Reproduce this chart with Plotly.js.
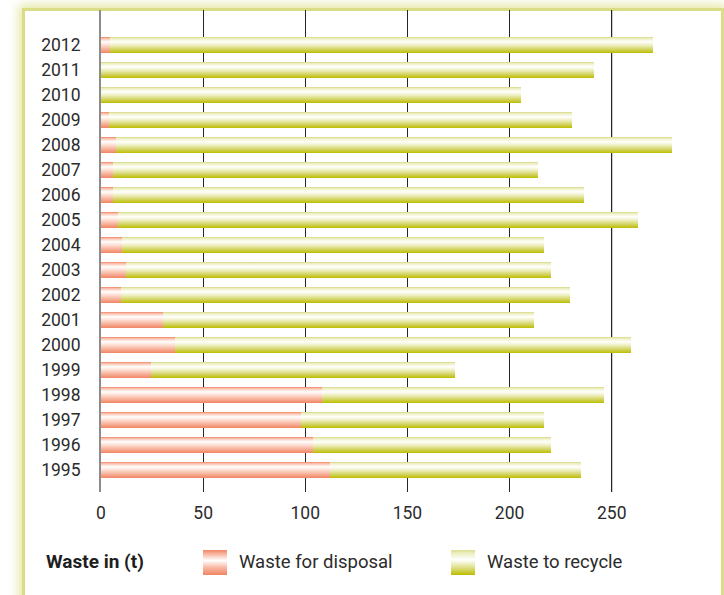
<!DOCTYPE html>
<html>
<head>
<meta charset="utf-8">
<script src="https://cdn.plot.ly/plotly-3.0.1.min.js"></script>
<style>
  html, body { margin: 0; padding: 0; background: #ffffff; }
  #wrap { position: relative; width: 724px; height: 595px; overflow: hidden; background: #ffffff; }
  #frame {
    position: absolute; left: 22px; top: 8px; width: 702px; height: 700px;
    box-sizing: border-box;
    border: 3px solid #dadd86; border-bottom: none;
    box-shadow: 0 0 10px 3px rgba(224, 227, 150, 0.9);
    background: #ffffff;
  }
  #chart { position: absolute; left: 0; top: 0; width: 724px; height: 595px; }
</style>
</head>
<body>
<div id="wrap">
  <div id="frame"></div>
  <div id="chart"></div>
</div>
<script>
// Annual waste in tonnes, split into disposal and recycling
const years = ['1995', '1996', '1997', '1998', '1999', '2000', '2001', '2002', '2003',
               '2004', '2005', '2006', '2007', '2008', '2009', '2010', '2011', '2012'];
const disposal = [112, 104, 98, 108, 24.5, 36, 30.5, 10, 12,
                  10.5, 8.5, 6, 6, 7.5, 4, 0, 0, 4.5];
const recycle = [123, 116.5, 119, 138, 149, 223.5, 181.5, 219.5, 208.5,
                 206.5, 254.5, 230.5, 208, 272, 226.5, 205.5, 241.5, 265.5];
const xTicks = [0, 50, 100, 150, 200, 250];
const seriesNames = ['Waste for disposal', 'Waste to recycle'];
const unitLabel = 'Waste in (t)';

const FONT = 'Roboto, "DejaVu Sans", sans-serif';
const TXT = '#2b2b2b';

const traces = [
  {
    type: 'bar', orientation: 'h', name: seriesNames[0],
    y: years, x: disposal, width: 0.64,
    marker: { color: '#f2896b', line: { width: 0 } },
    hoverinfo: 'skip'
  },
  {
    type: 'bar', orientation: 'h', name: seriesNames[1],
    y: years, x: recycle, width: 0.64,
    marker: { color: '#c2c200', line: { width: 0 } },
    hoverinfo: 'skip'
  }
];

const layout = {
  width: 724, height: 595,
  margin: { l: 101, r: 3, t: 10, b: 103 },
  paper_bgcolor: 'rgba(0,0,0,0)',
  plot_bgcolor: 'rgba(0,0,0,0)',
  barmode: 'stack',
  showlegend: false,
  font: { family: FONT, size: 17, color: TXT },
  xaxis: {
    range: [0, 303.5],
    tickmode: 'array', tickvals: xTicks, ticktext: xTicks.map(String),
    showgrid: true, gridcolor: '#262626', gridwidth: 1,
    zeroline: false, showline: false, ticks: '',
    tickfont: { family: FONT, size: 17.5, color: TXT },
    ticklabelstandoff: 8
  },
  yaxis: {
    type: 'category', categoryorder: 'array', categoryarray: years,
    range: [-0.88, 18.4],
    showgrid: false, zeroline: false,
    showline: true, linecolor: '#8c8c8c', linewidth: 2,
    ticks: '', ticklabelstandoff: 15,
    tickfont: { family: FONT, size: 17.5, color: TXT }
  },
  shapes: [
    { type: 'line', xref: 'x', yref: 'paper', x0: 250, x1: 250, y0: 0, y1: 1,
      line: { color: '#8f8f8f', width: 1.5 }, layer: 'below' },
    // legend swatches
    { type: 'rect', xref: 'paper', yref: 'paper', x0: 0.1645, x1: 0.2032, y0: -0.1722, y1: -0.1203,
      fillcolor: '#f2896b', line: { width: 0 }, layer: 'above' },
    { type: 'rect', xref: 'paper', yref: 'paper', x0: 0.5645, x1: 0.6032, y0: -0.1722, y1: -0.1203,
      fillcolor: '#c2c200', line: { width: 0 }, layer: 'above' }
  ],
  annotations: [
    { xref: 'paper', yref: 'paper', x: -0.0915, y: -0.1452, xanchor: 'left', yanchor: 'middle',
      text: '<b>' + unitLabel + '</b>', showarrow: false,
      font: { family: FONT, size: 19, color: '#1e1e1e' } },
    { xref: 'paper', yref: 'paper', x: 0.219, y: -0.1452, xanchor: 'left', yanchor: 'middle',
      text: seriesNames[0], showarrow: false,
      font: { family: FONT, size: 18.5, color: TXT } },
    { xref: 'paper', yref: 'paper', x: 0.619, y: -0.1452, xanchor: 'left', yanchor: 'middle',
      text: seriesNames[1], showarrow: false,
      font: { family: FONT, size: 18.5, color: TXT } }
  ]
};

// vertical shading gradients for the bars and the legend swatches
function addGradient(defs, id, stops) {
  const ns = 'http://www.w3.org/2000/svg';
  const g = document.createElementNS(ns, 'linearGradient');
  g.setAttribute('id', id);
  g.setAttribute('x1', '0'); g.setAttribute('y1', '0');
  g.setAttribute('x2', '0'); g.setAttribute('y2', '1');
  stops.forEach(function (s) {
    const st = document.createElementNS(ns, 'stop');
    st.setAttribute('offset', s[0]);
    st.setAttribute('stop-color', s[1]);
    g.appendChild(st);
  });
  defs.appendChild(g);
}

function shade(gd) {
  const defs = gd.querySelector('.main-svg defs');
  if (!defs.querySelector('#gRed')) {
    addGradient(defs, 'gRed', [[0, '#ef8465'], [0.1, '#f9c2ae'], [0.3, '#ffffff'], [0.55, '#fcd5c7'], [0.8, '#f6a88f'], [1, '#f08463']]);
    addGradient(defs, 'gGreen', [[0, '#d6d886'], [0.1, '#eeefc3'], [0.3, '#ffffff'], [0.5, '#eff0c4'], [0.75, '#d5d66a'], [1, '#bcbc00']]);
    addGradient(defs, 'gRedKey', [[0, '#f08566'], [0.15, '#f7b29c'], [0.42, '#ffffff'], [0.7, '#f8b8a3'], [1, '#f08463']]);
    addGradient(defs, 'gGreenKey', [[0, '#dcde90'], [0.15, '#eef0c6'], [0.4, '#ffffff'], [0.7, '#dfe08a'], [1, '#bcbc00']]);
  }
  const groups = gd.querySelectorAll('.barlayer .trace');
  const fills = ['url(#gRed)', 'url(#gGreen)'];
  groups.forEach(function (grp, i) {
    grp.querySelectorAll('.point path').forEach(function (p) { p.style.fill = fills[i]; });
  });
  const keyFill = { '1': 'url(#gRedKey)', '2': 'url(#gGreenKey)' };
  gd.querySelectorAll('.shapelayer path').forEach(function (p) {
    const idx = p.getAttribute('data-index');
    if (keyFill[idx]) p.style.fill = keyFill[idx];
  });
}

Plotly.newPlot('chart', traces, layout, { staticPlot: true, displayModeBar: false })
  .then(shade);
</script>
</body>
</html>
